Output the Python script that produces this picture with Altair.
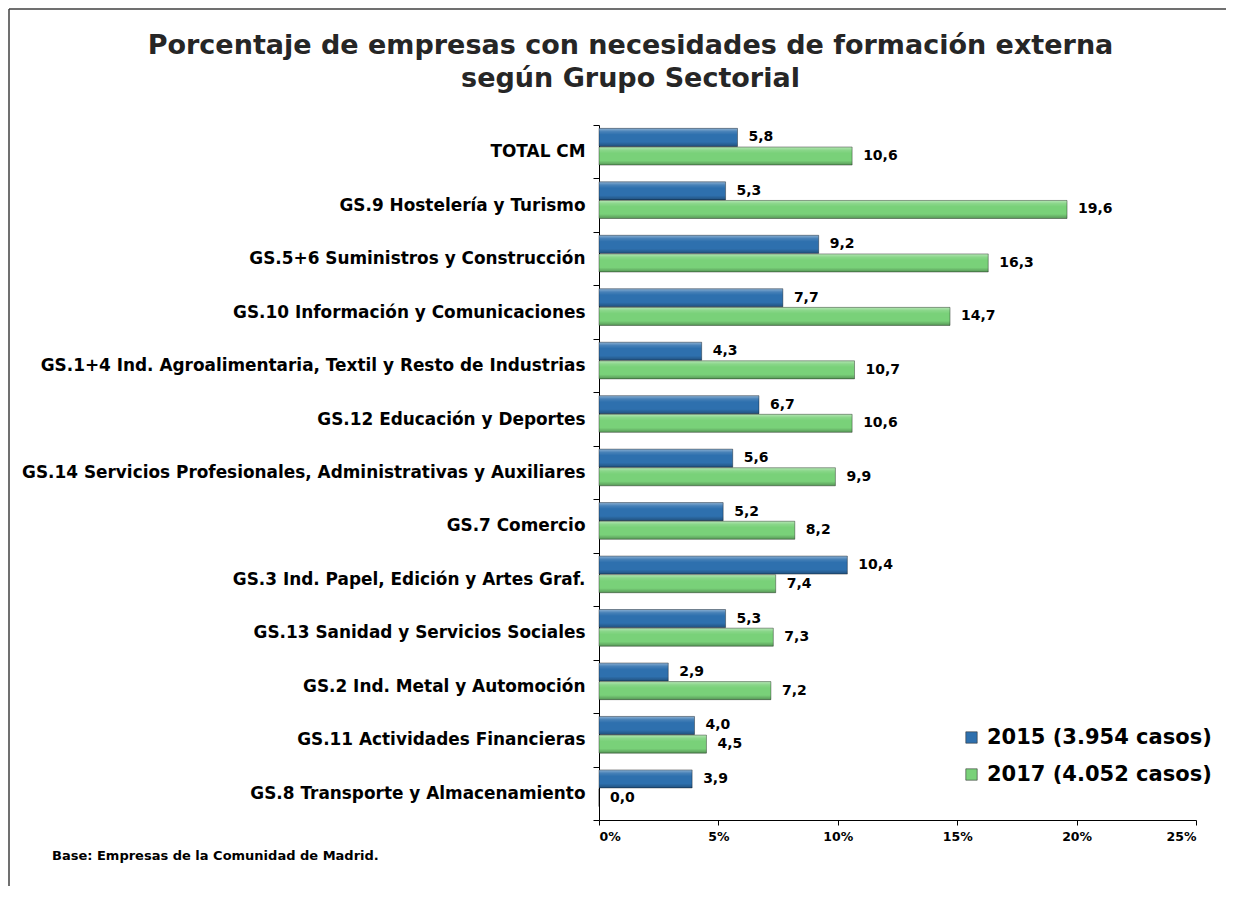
import altair as alt
import pandas as pd

categories = [
    "TOTAL CM",
    "GS.9 Hostelería y Turismo",
    "GS.5+6 Suministros y Construcción",
    "GS.10 Información y Comunicaciones",
    "GS.1+4 Ind. Agroalimentaria, Textil y Resto de Industrias",
    "GS.12 Educación y Deportes",
    "GS.14 Servicios Profesionales, Administrativas y Auxiliares",
    "GS.7 Comercio",
    "GS.3 Ind. Papel, Edición y Artes Graf.",
    "GS.13 Sanidad y Servicios Sociales",
    "GS.2 Ind. Metal y Automoción",
    "GS.11 Actividades Financieras",
    "GS.8 Transporte y Almacenamiento",
]
values_2015 = [5.8, 5.3, 9.2, 7.7, 4.3, 6.7, 5.6, 5.2, 10.4, 5.3, 2.9, 4.0, 3.9]
values_2017 = [10.6, 19.6, 16.3, 14.7, 10.7, 10.6, 9.9, 8.2, 7.4, 7.3, 7.2, 4.5, 0.0]
series = ["2015 (3.954 casos)", "2017 (4.052 casos)"]
x_ticks = [0, 5, 10, 15, 20, 25]

rows = []
for c, a, b in zip(categories, values_2015, values_2017):
    rows.append({"cat": c, "serie": series[0], "val": a})
    rows.append({"cat": c, "serie": series[1], "val": b})
df = pd.DataFrame(rows)
df["lbl"] = df["val"].map(lambda v: f"{v:.1f}".replace(".", ","))

FONT = "DejaVu Sans"

y_enc = alt.Y(
    "cat:N",
    sort=categories,
    title=None,
    scale=alt.Scale(paddingInner=0, paddingOuter=0),
    axis=alt.Axis(
        tickBand="extent",
        tickSize=6,
        tickColor="#000000",
        domainColor="#000000",
        labelFont=FONT,
        labelFontWeight="bold",
        labelFontSize=16.9,
        labelColor="#000000",
        labelPadding=8,
        labelLimit=800,
    ),
)
yoff = alt.YOffset(
    "serie:N",
    sort=series,
    scale=alt.Scale(paddingInner=0.03, paddingOuter=0.45, align=0.2),
)
x_enc = alt.X(
    "val:Q",
    title=None,
    scale=alt.Scale(domain=[0, 25], nice=False),
    axis=alt.Axis(
        values=x_ticks,
        labelExpr="datum.value + '%'",
        grid=False,
        tickSize=5,
        tickColor="#000000",
        domainColor="#000000",
        labelFont=FONT,
        labelFontWeight="bold",
        labelFontSize=12.5,
        labelColor="#000000",
        labelPadding=5,
    ),
)

base = alt.Chart(df)

bars = base.mark_bar().encode(
    x=x_enc,
    y=y_enc,
    yOffset=yoff,
    color=alt.Color(
        "serie:N",
        sort=series,
        scale=alt.Scale(domain=series, range=["#2E70AE", "#79D179"]),
        legend=alt.Legend(
            title=None,
            orient="none",
            legendX=362,
            legendY=602,
            symbolType="square",
            symbolSize=130,
            symbolStrokeColor="#333333",
            symbolStrokeWidth=0.6,
            labelFont=FONT,
            labelFontWeight="bold",
            labelFontSize=21,
            labelColor="#000000",
            labelLimit=400,
            rowPadding=15,
            labelOffset=5,
        ),
    ),
)

grad = alt.Gradient(
    gradient="linear",
    x1=0, x2=0, y1=0, y2=1,
    stops=[
        alt.GradientStop(color="rgba(255,255,255,0.45)", offset=0),
        alt.GradientStop(color="rgba(255,255,255,0.12)", offset=0.18),
        alt.GradientStop(color="rgba(255,255,255,0)", offset=0.35),
        alt.GradientStop(color="rgba(0,0,0,0)", offset=0.75),
        alt.GradientStop(color="rgba(0,0,0,0.28)", offset=1),
    ],
)
shine = base.mark_bar(color=grad, stroke="rgba(0,0,0,0.45)", strokeWidth=0.8).encode(
    x="val:Q", y=alt.Y("cat:N", sort=categories), yOffset=alt.YOffset("serie:N", sort=series)
)

labels = base.mark_text(
    align="left", baseline="middle", dx=11, font=FONT, fontWeight="bold", fontSize=14, color="#000000"
).encode(
    x="val:Q", y=alt.Y("cat:N", sort=categories), yOffset=alt.YOffset("serie:N", sort=series), text="lbl:N"
)

one = pd.DataFrame({"k": [0]})
frame_top = alt.Chart(one).mark_rule(color="#404040", strokeWidth=1.5).encode(
    x=alt.value(-590), x2=alt.value(700), y=alt.value(-116)
)
frame_left = alt.Chart(one).mark_rule(color="#404040", strokeWidth=1.5).encode(
    x=alt.value(-590), y=alt.value(-116), y2=alt.value(820)
)
footer = alt.Chart(pd.DataFrame({"t": ["Base: Empresas de la Comunidad de Madrid."]})).mark_text(
    align="left", baseline="middle", font=FONT, fontWeight="bold", fontSize=13, color="#000000"
).encode(x=alt.value(-547), y=alt.value(731), text="t:N")

chart = (
    alt.layer(bars, shine, labels, frame_top, frame_left, footer)
    .properties(
        width=597,
        height=695,
        autosize=alt.AutoSizeParams(type="none"),
        padding={"left": 591, "top": 117, "right": 30, "bottom": 66},
        title=alt.TitleParams(
            text=["Porcentaje de empresas con necesidades de formación externa", "según Grupo Sectorial"],
            font=FONT,
            fontWeight="bold",
            fontSize=27,
            color="#262626",
            anchor="middle",
            dx=-267,
            offset=-85,
            lineHeight=33,
        ),
    )
    .configure_view(stroke=None)
)

chart.save("out.html", embed_options={"renderer": "svg", "actions": False})
